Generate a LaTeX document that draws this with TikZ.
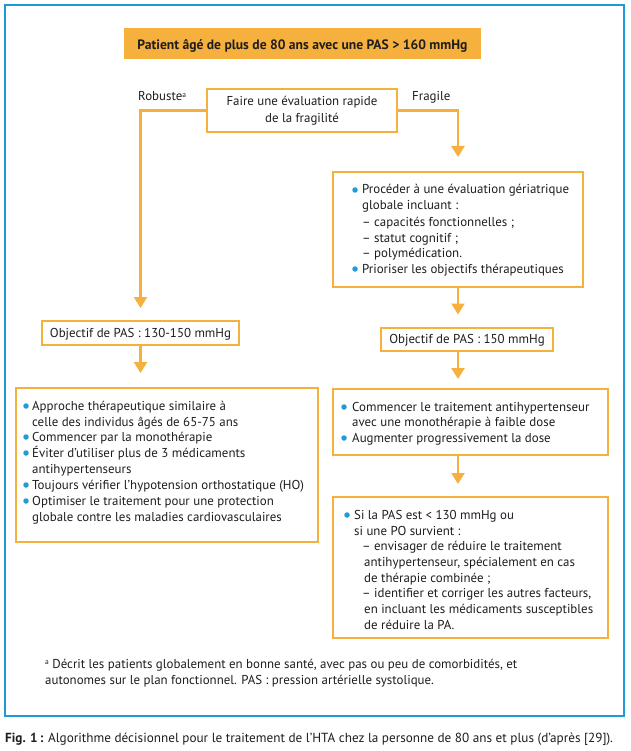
\documentclass[tikz,border=0pt]{standalone}
\usepackage{fontspec}
\setmainfont{PT Sans}
\usetikzlibrary{arrows.meta}
\definecolor{orng}{RGB}{245,176,62}
\definecolor{bframe}{RGB}{30,155,214}
\definecolor{bulc}{RGB}{35,155,215}
\definecolor{ink}{RGB}{30,30,30}
\newcommand\txtline[4]{\node[txt] (#1) at (#2,#3) {#4};}
\newcommand\bulline[5]{\node[bulnode] (#1b) at (#2,#4-4) {};\node[txt] (#1) at (#3,#4) {#5};}
\newcommand\supa{\raisebox{0.55ex}{\fontsize{7.5}{8}\selectfont a}}
\begin{document}
\begin{tikzpicture}[x=1pt,y=-1pt,
  txt/.style={anchor=base west,inner sep=0pt,font=\fontsize{12.9}{14}\selectfont,text=ink},
  ctxt/.style={anchor=base,inner sep=0pt,font=\fontsize{12.9}{14}\selectfont,text=ink},
  bulnode/.style={circle,fill=bulc,inner sep=0pt,minimum size=5.5pt},
  obox/.style={draw=orng,line width=2pt,inner sep=0pt},
  arr/.style={draw=orng,line width=2.4pt,-{Triangle[width=13pt,length=11pt]},shorten >=12pt}]
\useasboundingbox (0,0) rectangle (630,751);
\fill[white] (0,0) rectangle (630,751);
\draw[bframe,line width=2.5pt] (5,5) rectangle (624,716);
% boxes
\node[fill=orng,inner sep=0pt,minimum width=357pt,minimum height=31pt] (top) at (302.5,43.5) {};
\node[obox,minimum width=190pt,minimum height=43pt] (ev) at (302,110.5) {};
\node[obox,minimum width=250pt,minimum height=115pt] (b1) at (458,229.5) {};
\node[obox,minimum width=197pt,minimum height=24pt] (objl) at (140.5,333) {};
\node[obox,minimum width=172pt,minimum height=23pt] (objr) at (467,339) {};
\node[obox,minimum width=302pt,minimum height=154pt] (lb) at (167,465) {};
\node[obox,minimum width=275pt,minimum height=66pt] (b2) at (470.5,422) {};
\node[obox,minimum width=275pt,minimum height=141pt] (b3) at (470.5,567.5) {};
\coordinate (cx) at (458,0);
% connectors
\draw[arr] (ev.west) -| (objl.north);
\draw[arr,shorten >=14pt] (ev.east) -| (b1.north);
\draw[arr] (b1.south) -- (b1.south |- objr.north);
\draw[arr,shorten >=14pt] (objl.south) -- (objl.south |- lb.north);
\draw[arr,shorten >=9pt] (objr.south -| cx) -- (b2.north -| cx);
\draw[arr] (b2.south -| cx) -- (b3.north -| cx);
% texts
\node[anchor=base,inner sep=0pt,font=\fontsize{13.6}{15}\selectfont\bfseries,text=ink] (toptxt) at (302.5,49.5) {Patient âgé de plus de 80 ans avec une PAS > 160 mmHg};
\node[ctxt] (ev1) at (302,106) {Faire une évaluation rapide};
\node[ctxt] (ev2) at (302,123) {de la fragilité};
\txtline{rob}{138}{101}{Robuste\supa}
\txtline{fra}{412}{101}{Fragile}
% box 1
\bulline{p1}{355}{362}{194}{Procéder à une évaluation gériatrique}
\txtline{p2}{362}{210}{globale incluant :}
\txtline{p3}{362}{226}{– capacités fonctionnelles ;}
\txtline{p4}{362}{242}{– statut cognitif ;}
\txtline{p5}{362}{257}{– polymédication.}
\bulline{p6}{355}{362}{273}{Prioriser les objectifs thérapeutiques}
% objectives
\node[ctxt] (objltxt) at (140.5,337) {Objectif de PAS : 130-150 mmHg};
\node[ctxt] (objrtxt) at (467,343) {Objectif de PAS : 150 mmHg};
% left big box
\bulline{l1}{26}{32}{410}{Approche thérapeutique similaire à}
\txtline{l2}{32}{426}{celle des individus âgés de 65-75 ans}
\bulline{l3}{26}{32}{441}{Commencer par la monothérapie}
\bulline{l4}{26}{32}{457}{Éviter d’utiliser plus de 3 médicaments}
\txtline{l5}{32}{473}{antihypertenseurs}
\bulline{l6}{26}{32}{489}{Toujours vérifier l’hypotension orthostatique (HO)}
\bulline{l7}{26}{32}{505}{Optimiser le traitement pour une protection}
\txtline{l8}{32}{521}{globale contre les maladies cardiovasculaires}
% box 2
\bulline{m1}{344}{352}{411}{Commencer le traitement antihypertenseur}
\txtline{m2}{352}{426}{avec une monothérapie à faible dose}
\bulline{m3}{344}{352}{442}{Augmenter progressivement la dose}
% box 3
\bulline{r1}{347}{354}{519}{Si la PAS est < 130 mmHg ou}
\txtline{r2}{354}{535}{si une PO survient :}
\txtline{r3}{362}{550}{– envisager de réduire le traitement}
\txtline{r4}{364}{566}{antihypertenseur, spécialement en cas}
\txtline{r5}{364}{582}{de thérapie combinée ;}
\txtline{r6}{362}{597}{– identifier et corriger les autres facteurs,}
\txtline{r7}{364}{613}{en incluant les médicaments susceptibles}
\txtline{r8}{364}{629}{de réduire la PA.}
% footnote
\txtline{f1}{45}{668}{\supa\ Décrit les patients globalement en bonne santé, avec pas ou peu de comorbidités, et}
\txtline{f2}{45}{684}{autonomes sur le plan fonctionnel. PAS : pression artérielle systolique.}
% caption
\node[txt,font=\fontsize{13.2}{14}\selectfont] (cap) at (5,742) {\textbf{Fig. 1\,:} Algorithme décisionnel pour le traitement de l’HTA chez la personne de 80 ans et plus (d’après [29]).};
\end{tikzpicture}
\end{document}
